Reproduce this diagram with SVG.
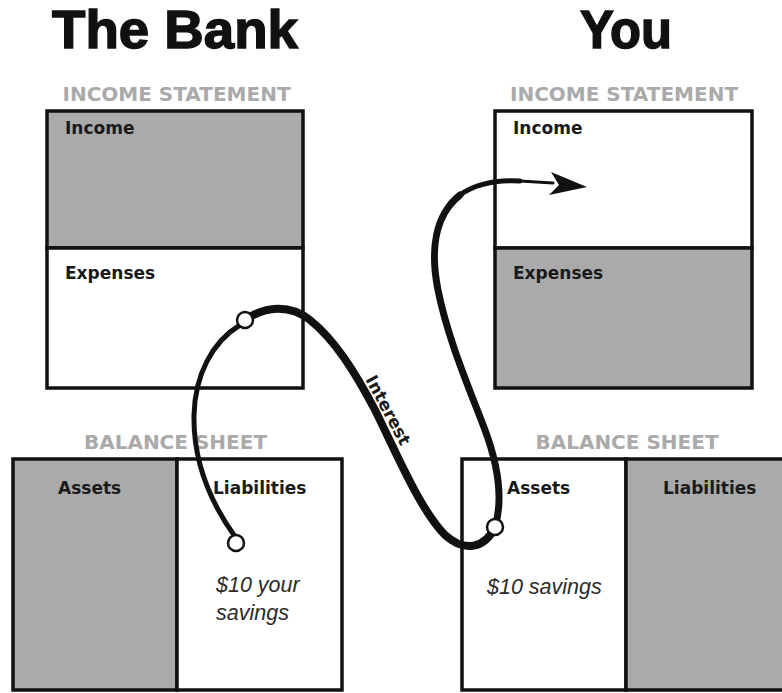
<svg xmlns="http://www.w3.org/2000/svg" width="782" height="693" viewBox="0 0 782 693">
<style>
.title{font-family:"Liberation Sans",Arial,sans-serif;font-weight:bold;font-size:54px;fill:#111;stroke:#111;stroke-width:1.5px}
.sect{font-family:"DejaVu Sans",sans-serif;font-weight:bold;font-size:20px;fill:#aaa;text-anchor:middle}
.lbl{font-family:"DejaVu Sans",sans-serif;font-weight:bold;font-size:17px;fill:#1a1a1a}
.amt{font-family:"Liberation Sans",Arial,sans-serif;font-style:italic;font-size:21.5px;fill:#2a2a2a}
.box{stroke:#111;stroke-width:3.5;}
.gray{fill:#aaaaaa}
.white{fill:#ffffff}
.curve{fill:none;stroke:#111;stroke-linecap:round;stroke-linejoin:round}
.ring{fill:#fff;stroke:#111;stroke-width:2.5}
</style>
<rect width="782" height="693" fill="#fff"/>
<g id="titles">
<text class="title" x="52" y="48" textLength="246" lengthAdjust="spacingAndGlyphs">The Bank</text>
<text class="title" x="580" y="48" textLength="92" lengthAdjust="spacingAndGlyphs">You</text>
<text class="sect" x="176.5" y="101">INCOME STATEMENT</text>
<text class="sect" x="624" y="101">INCOME STATEMENT</text>
<text class="sect" x="175.5" y="449">BALANCE SHEET</text>
<text class="sect" x="627" y="449">BALANCE SHEET</text>
</g>
<g id="bank-income">
<rect class="box gray" x="47" y="111" width="256" height="137"/>
<text class="lbl" x="65" y="134">Income</text>
</g>
<g id="bank-expenses">
<rect class="box white" x="47" y="248" width="256" height="140"/>
<text class="lbl" x="65" y="279">Expenses</text>
</g>
<g id="you-income">
<rect class="box white" x="495" y="111" width="257" height="137"/>
<text class="lbl" x="513" y="134">Income</text>
</g>
<g id="you-expenses">
<rect class="box gray" x="495" y="248" width="257" height="140"/>
<text class="lbl" x="513" y="279">Expenses</text>
</g>
<g id="bank-assets">
<rect class="box gray" x="13" y="459" width="164" height="231"/>
<text class="lbl" x="58" y="494">Assets</text>
</g>
<g id="bank-liabilities">
<rect class="box white" x="177" y="459" width="165" height="231"/>
<text class="lbl" x="213" y="494">Liabilities</text>
<text class="amt" x="216" y="592">$10 your</text>
<text class="amt" x="216" y="620">savings</text>
</g>
<g id="you-assets">
<rect class="box white" x="462" y="459" width="164" height="231"/>
<text class="lbl" x="507" y="494">Assets</text>
<text class="amt" x="487" y="594">$10 savings</text>
</g>
<g id="you-liabilities">
<rect class="box gray" x="626" y="459" width="170" height="231"/>
<text class="lbl" x="663" y="494">Liabilities</text>
</g>
<g id="connectors">
<path class="curve" stroke-width="5" d="M236,538 C212,505 193,465 194,415 C195,375 212,342 240,325"/>
<path class="curve" stroke-width="8" d="M245,320 C265,306 290,304 310,320 C335,340 355,372 375,410 C395,450 420,510 445,535 C465,553 485,548 495,527"/>
<path class="curve" stroke-width="7" d="M495,527 C503,500 498,465 485,430 C470,390 448,340 438,290 C430,250 435,215 460,195"/>
<path class="curve" stroke-width="5" d="M460,195 C478,182 500,180 520,181"/>
<path class="curve" stroke-width="3" d="M520,181 L553,183"/>
<polygon points="587,187 551,172 559,185 549,195" fill="#111"/>
<circle class="ring" cx="236" cy="543" r="8"/>
<circle class="ring" cx="245" cy="320" r="8"/>
<circle class="ring" cx="495" cy="527" r="8"/>
<text class="lbl" font-size="16" text-anchor="middle" transform="translate(383,413) rotate(62)">Interest</text>
</g>
</svg>
